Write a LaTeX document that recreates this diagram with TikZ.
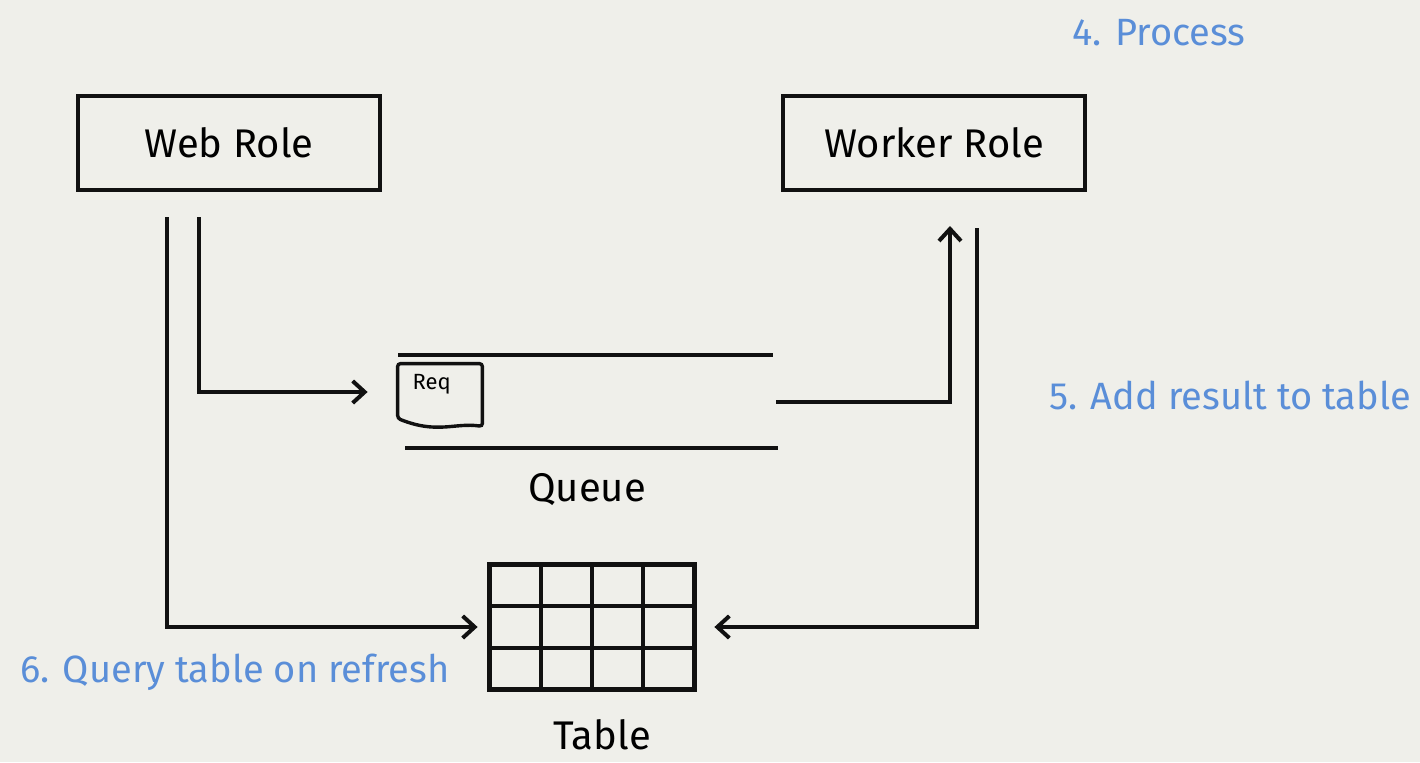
\documentclass[tikz,border=0pt]{standalone}
\usepackage{fontspec}
\setmainfont{Fira Sans}
\usetikzlibrary{arrows.meta,calc}
\definecolor{paper}{HTML}{EFEFEA}
\definecolor{stepblue}{HTML}{5A8ED8}
\definecolor{ink}{HTML}{111111}

\tikzset{
  role/.style={draw=ink, line width=2.2pt, minimum width=151pt, minimum height=47pt,
    font=\fontsize{20}{24}\selectfont},
  flow/.style={draw=ink, line width=2pt, -{Straight Barb[length=6pt,width=11pt,line width=2pt]}},
  wire/.style={draw=ink, line width=2.2pt},
  steplabel/.style={text=stepblue, font=\fontsize{19}{23}\selectfont},
  caption/.style={font=\fontsize{20}{24}\selectfont},
}

\begin{document}
\begin{tikzpicture}[x=0.5pt, y=-0.5pt]
  % Page
  \fill[paper] (0,0) rectangle (1420,762);
  \useasboundingbox (0,0) rectangle (1420,762);

  % Roles
  \node[role] (web) at (229,143) {Web Role};
  \node[role] (worker) at (934,143) {Worker Role};

  % Queue with one request in it
  \draw[wire] (398,355) -- (773,355);
  \draw[wire] (405,448) -- (778,448);
  \node[minimum width=42pt, minimum height=28pt, inner sep=0pt] (req) at (440,392) {};
  \draw[ink, line width=1.7pt, rounded corners=1.5pt]
    (req.north west) -- (req.north east) -- ([yshift=-3pt]req.south east)
    .. controls +(-14pt,2pt) and +(20pt,-8pt) .. ([yshift=1pt]req.south west) -- cycle;
  \node[font=\fontsize{11}{13}\selectfont, anchor=north west] (reqtext) at ([xshift=4pt,yshift=-2pt]req.north west) {Req};
  \node[caption] (queue) at (587,490) {Queue};
  \coordinate (qout) at (776,402);

  % Table grid
  \node[minimum width=102pt, minimum height=62pt, inner sep=0pt] (table) at (592,627) {};
  \draw[wire] (table.north west) rectangle (table.south east);
  \foreach \cx in {1,2,3} {
    \draw[wire] ($(table.north west)!\cx/4!(table.north east)$) -- ($(table.south west)!\cx/4!(table.south east)$);
  }
  \foreach \ry in {1,2} {
    \draw[wire] ($(table.north west)!\ry/3!(table.south west)$) -- ($(table.north east)!\ry/3!(table.south east)$);
  }
  \node[caption] (tablecap) at (602,735) {Table};

  % Connectors
  \coordinate (webt) at (167,217);
  \coordinate (webq) at (199,217);
  \coordinate (wkin) at (950,226);
  \coordinate (wkout) at (977,228);
  \draw[flow, shorten >=15pt] (webq) |- (req.west);
  \draw[flow, shorten >=6pt] (webt) |- (table.west);
  \draw[flow] (qout) -| (wkin);
  \draw[flow, shorten >=10pt] (wkout) |- (table.east);

  % Step labels
  \node[steplabel] (process) at (1159,33) {4. Process};
  \node[steplabel] (addres) at (1230,395) {5. Add result to table};
  \node[steplabel] (query) at (235,672) {6. Query table on refresh};
\end{tikzpicture}
\end{document}
